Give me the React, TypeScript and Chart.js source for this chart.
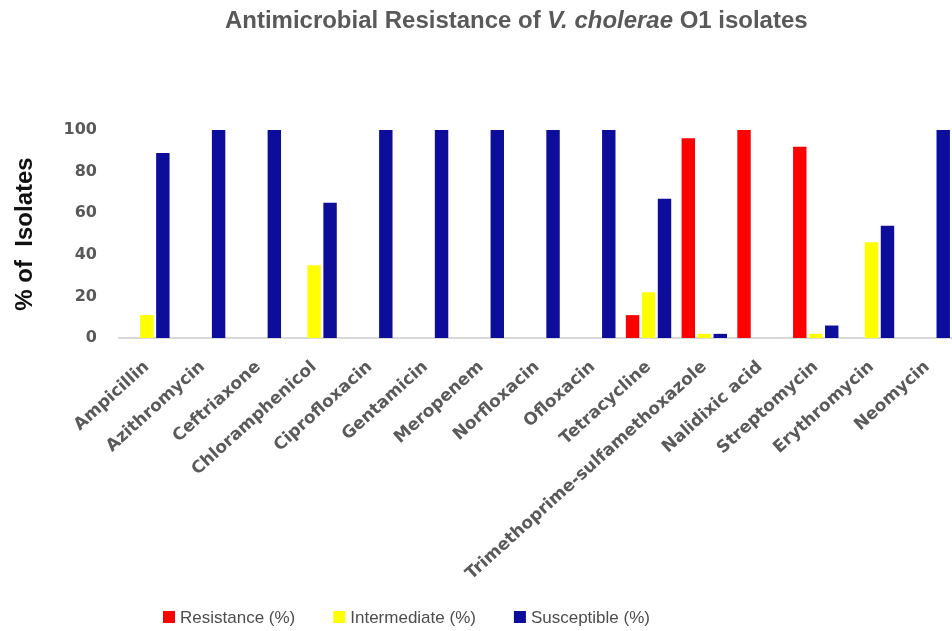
import React, { useEffect, useRef } from "react";
import { Chart, registerables } from "chart.js";

Chart.register(...registerables);

const categories = [
  "Ampicillin",
  "Azithromycin",
  "Ceftriaxone",
  "Chloramphenicol",
  "Ciprofloxacin",
  "Gentamicin",
  "Meropenem",
  "Norfloxacin",
  "Ofloxacin",
  "Tetracycline",
  "Trimethoprime-sulfamethoxazole",
  "Nalidixic acid",
  "Streptomycin",
  "Erythromycin",
  "Neomycin",
];

const resistance = [0, 0, 0, 0, 0, 0, 0, 0, 0, 11, 96, 100, 92, 0, 0];
const intermediate = [11, 0, 0, 35, 0, 0, 0, 0, 0, 22, 2, 0, 2, 46, 0];
const susceptible = [89, 100, 100, 65, 100, 100, 100, 100, 100, 67, 2, 0, 6, 54, 100];

const seriesLabels = ["Resistance (%)", "Intermediate (%)", "Susceptible (%)"];
const seriesColors = ["#ff0000", "#ffff00", "#0d0d9b"];
const yTicks = [0, 20, 40, 60, 80, 100];

const titleParts = [
  { text: "Antimicrobial Resistance of ", italic: false },
  { text: "V. cholerae", italic: true },
  { text: " O1 isolates", italic: false },
];
const yAxisTitle = "% of  Isolates";

const TITLE_FAMILY = "'Liberation Sans', Arial, sans-serif";

const overlayPlugin = {
  id: "overlayText",
  afterDraw(chart: any) {
    const ctx: CanvasRenderingContext2D = chart.ctx;
    ctx.save();
    // Title (mixed italic)
    const baseSize = 20;
    const fontFor = (italic: boolean, size: number) =>
      `${italic ? "italic " : ""}bold ${size}px ${TITLE_FAMILY}`;
    let total = 0;
    for (const p of titleParts) {
      ctx.font = fontFor(p.italic, baseSize);
      total += ctx.measureText(p.text).width;
    }
    const size = (baseSize * 583) / total;
    let x = 225;
    ctx.fillStyle = "#595959";
    ctx.textBaseline = "alphabetic";
    ctx.textAlign = "left";
    for (const p of titleParts) {
      ctx.font = fontFor(p.italic, size);
      ctx.fillText(p.text, x, 28);
      x += ctx.measureText(p.text).width;
    }

    // Legend
    let lx = 163;
    const ly = 617;
    ctx.font = `17px ${TITLE_FAMILY}`;
    ctx.textBaseline = "middle";
    seriesLabels.forEach((label, i) => {
      ctx.fillStyle = seriesColors[i];
      ctx.fillRect(lx, ly - 6, 12, 12);
      ctx.fillStyle = "#4d4d4d";
      ctx.fillText(label, lx + 17, ly + 1);
      lx += 17 + ctx.measureText(label).width + 38;
    });
    ctx.restore();
  },
};

export default function App() {
  const canvasRef = useRef<HTMLCanvasElement | null>(null);

  useEffect(() => {
    if (!canvasRef.current) return;
    const chart = new Chart(canvasRef.current, {
      type: "bar",
      data: {
        labels: categories,
        datasets: [resistance, intermediate, susceptible].map((d, i) => ({
          label: seriesLabels[i],
          data: d,
          backgroundColor: seriesColors[i],
          borderWidth: 0,
          categoryPercentage: 0.86,
          barPercentage: 0.84,
        })),
      },
      options: {
        responsive: false,
        animation: false,
        devicePixelRatio: 1,
        layout: { padding: { top: 130, right: 3, left: 0, bottom: 0 } },
        plugins: {
          legend: { display: false },
          title: { display: false },
          tooltip: { enabled: false },
        },
        scales: {
          x: {
            grid: { display: false, drawTicks: false },
            border: { display: true, color: "#d9d9d9", width: 2 },
            ticks: {
              autoSkip: false,
              minRotation: 42,
              maxRotation: 42,
              padding: 19,
              color: "#5a5a5a",
              font: { family: "'DejaVu Sans', sans-serif", weight: "bold", size: 17 },
            },
            afterFit: (s: any) => {
              s.height = 293;
            },
          },
          y: {
            min: 0,
            max: 100,
            grid: { display: false, drawTicks: false },
            border: { display: false },
            afterBuildTicks: (s: any) => {
              s.ticks = yTicks.map((v) => ({ value: v }));
            },
            ticks: {
              padding: 22,
              color: "#595959",
              font: { family: "'DejaVu Sans', sans-serif", weight: "bold", size: 16 },
            },
            title: {
              display: true,
              text: yAxisTitle,
              color: "#111111",
              padding: { top: 11, bottom: 0 },
              font: { family: TITLE_FAMILY, weight: "bold", size: 24 },
            },
            afterFit: (s: any) => {
              s.width = 119;
            },
          },
        },
      },
      plugins: [overlayPlugin],
    } as any);
    return () => chart.destroy();
  }, []);

  return (
    <div
      style={{
        position: "fixed",
        left: 0,
        top: 0,
        width: 952,
        height: 631,
        overflow: "hidden",
        background: "#ffffff",
      }}
    >
      <canvas ref={canvasRef} width={960} height={631} style={{ display: "block" }} />
    </div>
  );
}
